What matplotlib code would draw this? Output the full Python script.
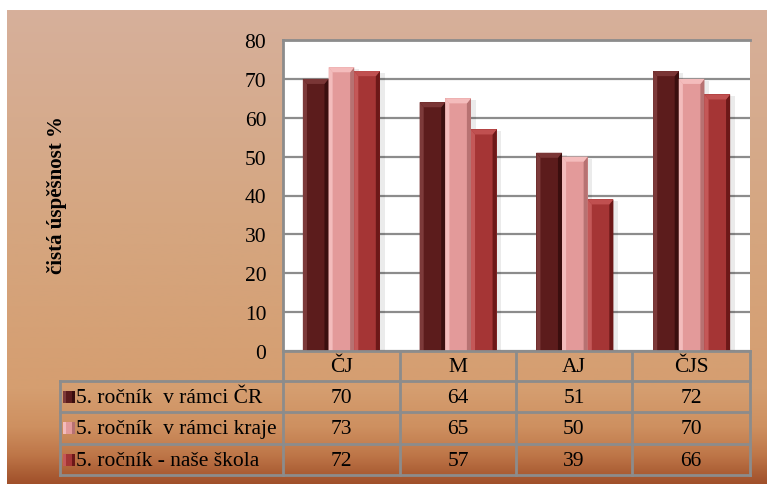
import numpy as np
import matplotlib.pyplot as plt
from matplotlib.patches import Rectangle

# --- data ---
categories = ["ČJ", "M", "AJ", "ČJS"]
series_names = ["5. ročník  v rámci ČR", "5. ročník  v rámci kraje", "5. ročník - naše škola"]
vals_cr = [70, 64, 51, 72]
vals_kraj = [73, 65, 50, 70]
vals_skola = [72, 57, 39, 66]
series = [vals_cr, vals_kraj, vals_skola]
yticks = [0, 10, 20, 30, 40, 50, 60, 70, 80]
ylabel = "čistá úspěšnost %"

# base, left highlight, right shade, top cap
styles = [
    ("#5c1c1c", "#7d3a3a", "#3a0e0e", "#7a3636"),
    ("#e39a9a", "#f3bcbc", "#b77272", "#f4bcbc"),
    ("#a53535", "#c45858", "#6c1818", "#c05050"),
]

plt.rcParams["font.family"] = ["Liberation Serif", "DejaVu Serif"]

W, H = 767, 489
fig = plt.figure(figsize=(W / 100, H / 100), dpi=100)


def box(x0, y0, x1, y1):
    return [x0 / W, 1 - y1 / H, (x1 - x0) / W, (y1 - y0) / H]


# --- background gradient ---
bg = fig.add_axes(box(7, 11, 767, 485))
t = np.linspace(0, 1, 400)
stops = [0.0, 0.45, 0.80, 0.88, 0.94, 1.0]
cols = np.array([
    (215, 176, 155), (213, 166, 128), (213, 158, 112),
    (206, 144, 96), (190, 118, 72), (160, 80, 42)]) / 255
grad = np.stack([np.interp(t, stops, cols[:, k]) for k in range(3)], axis=-1)
bg.imshow(grad[:, None, :], aspect="auto", extent=[0, 1, 0, 1])
bg.axis("off")

# --- bar chart ---
ax = fig.add_axes(box(283, 41, 750, 352))
ax.set_facecolor("white")
x = np.arange(len(categories))
bw = 0.22
bev = 0.035
cap = 1.3
for i, (vals, (base, light, dark, top)) in enumerate(zip(series, styles)):
    xi = x + (i - 1) * bw
    v = np.array(vals)
    ax.bar(xi + 0.03, v - 0.5, width=bw + 0.02, color="black", alpha=0.08, zorder=2)
    ax.bar(xi, v, width=bw, color=base, zorder=3)
    for xc, h in zip(xi, v):
        xl, xr = xc - bw / 2, xc + bw / 2
        ax.fill([xl, xl, xl + bev, xl + bev], [0, h, h - cap, 0], color=light, lw=0, zorder=4)
        ax.fill([xr, xr, xr - bev, xr - bev], [0, h, h - cap, 0], color=dark, lw=0, zorder=4)
        ax.fill([xl, xr, xr - bev, xl + bev], [h, h, h - cap, h - cap], color=top, lw=0, zorder=4)

ax.set_xlim(-0.5, len(categories) - 0.5)
ax.set_ylim(0, 80)
ax.set_yticks(yticks)
ax.set_xticks([])
ax.yaxis.grid(True, color="#8c8c8c", linewidth=1.6, zorder=1)
ax.set_axisbelow(True)
ax.tick_params(axis="y", length=0, labelsize=15.5, pad=12)
for s in ["right", "bottom"]:
    ax.spines[s].set_visible(False)
for s in ["left", "top"]:
    ax.spines[s].set_color("#8c8c8c")
    ax.spines[s].set_linewidth(2)
fig.text(57 / W, 1 - 195 / H, ylabel, rotation=90, ha="center", va="center",
         fontsize=15, fontweight="bold")

# --- data table ---
tab = fig.add_axes(box(60, 352, 750, 476))
tab.set_xlim(0, 690)
tab.set_ylim(124, 0)
tab.axis("off")
col_edges = [0, 223, 340, 456, 572, 690]
row_edges = [0, 30, 61, 93, 124]
lc = "#8c8c8c"
lw = 2
# horizontal lines
tab.plot([223, 690], [row_edges[0]] * 2, color=lc, lw=lw, clip_on=False)
for r in row_edges[1:]:
    tab.plot([0, 690], [r, r], color=lc, lw=lw, clip_on=False)
# vertical lines
tab.plot([0, 0], [row_edges[1], row_edges[-1]], color=lc, lw=lw, clip_on=False)
for c in col_edges[1:]:
    tab.plot([c, c], [row_edges[0], row_edges[-1]], color=lc, lw=lw, clip_on=False)

fs = 15.5
for j, cat in enumerate(categories):
    cx = (col_edges[j + 1] + col_edges[j + 2]) / 2
    tab.text(cx, (row_edges[0] + row_edges[1]) / 2 + 1, cat, ha="center", va="center", fontsize=fs)

for i, (name, vals, (base, light, dark, top)) in enumerate(zip(series_names, series, styles)):
    cy = (row_edges[i + 1] + row_edges[i + 2]) / 2
    tab.add_patch(Rectangle((3, cy - 6), 12, 12, facecolor=base, edgecolor="none"))
    tab.add_patch(Rectangle((3, cy - 6), 3, 12, facecolor=light, edgecolor="none"))
    tab.add_patch(Rectangle((12, cy - 6), 3, 12, facecolor=dark, edgecolor="none"))
    tab.text(16, cy + 1, name, ha="left", va="center", fontsize=fs)
    for j, v in enumerate(vals):
        cx = (col_edges[j + 1] + col_edges[j + 2]) / 2
        tab.text(cx, cy + 1, str(v), ha="center", va="center", fontsize=fs)

fig.savefig("out.png", dpi=100)
